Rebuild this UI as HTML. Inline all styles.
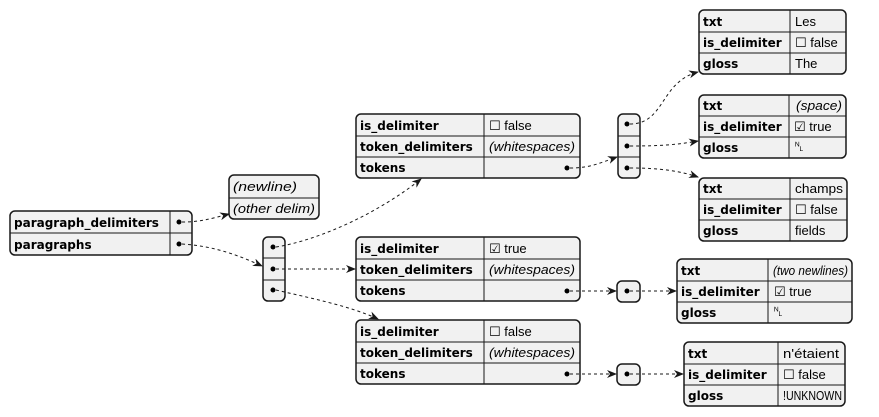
<!DOCTYPE html>
<html><head><meta charset="utf-8"><style>
html,body{margin:0;padding:0;background:#fff;}
svg{display:block;}
.b{fill:#f1f1f1;stroke:#181818;stroke-width:1.5;}
.l{stroke:#181818;stroke-width:1;}
.k{font-family:"DejaVu Sans","Liberation Sans",sans-serif;font-size:12px;font-weight:bold;fill:#000;}
.v{font-family:"Liberation Sans","DejaVu Sans",sans-serif;font-size:13px;fill:#000;}
.i{font-style:italic;}
.c{fill:none;stroke:#181818;stroke-width:1;stroke-dasharray:3,3;}
</style></head><body>
<svg width="879" height="417" viewBox="0 0 879 417" xmlns="http://www.w3.org/2000/svg">
<defs><marker id="a" markerWidth="10" markerHeight="8" refX="9" refY="4" orient="auto" markerUnits="userSpaceOnUse"><path d="M0,0 L10,4 L0,8 L3,4 Z" fill="#181818"/></marker></defs>

<rect class="b" x="10" y="211" width="182" height="44" rx="5"/>
<line class="l" x1="10" y1="233" x2="192" y2="233"/><line class="l" x1="170" y1="211" x2="170" y2="255"/>
<text class="k" x="14" y="227">paragraph_delimiters</text><text class="k" x="14" y="249">paragraphs</text>
<circle cx="179" cy="222" r="2.5"/><circle cx="179" cy="244" r="2.5"/>

<rect class="b" x="229" y="175" width="90" height="44" rx="5"/>
<line class="l" x1="229" y1="198" x2="319" y2="198"/>
<text class="v i" x="233" y="191" textLength="64" lengthAdjust="spacingAndGlyphs">(newline)</text><text class="v i" x="233" y="213" textLength="82" lengthAdjust="spacingAndGlyphs">(other delim)</text>

<rect class="b" x="263" y="237" width="22" height="64" rx="5"/>
<line class="l" x1="263" y1="258" x2="285" y2="258"/><line class="l" x1="263" y1="280" x2="285" y2="280"/>
<circle cx="273" cy="247" r="2.5"/><circle cx="273" cy="269" r="2.5"/><circle cx="273" cy="290" r="2.5"/>

<g>
<rect class="b" x="356" y="114" width="224" height="64" rx="5"/>
<line class="l" x1="356" y1="136" x2="580" y2="136"/><line class="l" x1="356" y1="157" x2="580" y2="157"/><line class="l" x1="484" y1="114" x2="484" y2="178"/>
<text class="k" x="360" y="130">is_delimiter</text><text class="k" x="360" y="151">token_delimiters</text><text class="k" x="360" y="172">tokens</text>
<text class="v" x="489" y="130">☐ false</text><text class="v i" x="489" y="151" textLength="86" lengthAdjust="spacingAndGlyphs">(whitespaces)</text>
<circle cx="567" cy="168" r="2.5"/>
</g>
<g>
<rect class="b" x="356" y="237" width="224" height="64" rx="5"/>
<line class="l" x1="356" y1="259" x2="580" y2="259"/><line class="l" x1="356" y1="280" x2="580" y2="280"/><line class="l" x1="484" y1="237" x2="484" y2="301"/>
<text class="k" x="360" y="253">is_delimiter</text><text class="k" x="360" y="274">token_delimiters</text><text class="k" x="360" y="295">tokens</text>
<text class="v" x="489" y="253">☑ true</text><text class="v i" x="489" y="274" textLength="86" lengthAdjust="spacingAndGlyphs">(whitespaces)</text>
<circle cx="567" cy="291" r="2.5"/>
</g>
<g>
<rect class="b" x="356" y="320" width="224" height="64" rx="5"/>
<line class="l" x1="356" y1="342" x2="580" y2="342"/><line class="l" x1="356" y1="363" x2="580" y2="363"/><line class="l" x1="484" y1="320" x2="484" y2="384"/>
<text class="k" x="360" y="336">is_delimiter</text><text class="k" x="360" y="357">token_delimiters</text><text class="k" x="360" y="378">tokens</text>
<text class="v" x="489" y="336">☐ false</text><text class="v i" x="489" y="357" textLength="86" lengthAdjust="spacingAndGlyphs">(whitespaces)</text>
<circle cx="567" cy="374" r="2.5"/>
</g>

<rect class="b" x="618" y="114" width="22" height="64" rx="5"/>
<line class="l" x1="618" y1="136" x2="640" y2="136"/><line class="l" x1="618" y1="157" x2="640" y2="157"/>
<circle cx="627" cy="124" r="2.5"/><circle cx="627" cy="146" r="2.5"/><circle cx="627" cy="168" r="2.5"/>
<rect class="b" x="617" y="281" width="23" height="21" rx="5"/><circle cx="627" cy="291" r="2.5"/>
<rect class="b" x="617" y="364" width="23" height="21" rx="5"/><circle cx="627" cy="374" r="2.5"/>

<g>
<rect class="b" x="699" y="10" width="147" height="64" rx="5"/>
<line class="l" x1="699" y1="32" x2="846" y2="32"/><line class="l" x1="699" y1="53" x2="846" y2="53"/><line class="l" x1="790" y1="10" x2="790" y2="74"/>
<text class="k" x="703" y="26">txt</text><text class="k" x="703" y="47">is_delimiter</text><text class="k" x="703" y="68">gloss</text>
<text class="v" x="795" y="26">Les</text><text class="v" x="795" y="47">☐ false</text><text class="v" x="795" y="68">The</text>
</g>
<g>
<rect class="b" x="699" y="95" width="147" height="63" rx="5"/>
<line class="l" x1="699" y1="116" x2="846" y2="116"/><line class="l" x1="699" y1="137" x2="846" y2="137"/><line class="l" x1="789" y1="95" x2="789" y2="158"/>
<text class="k" x="703" y="110">txt</text><text class="k" x="703" y="131">is_delimiter</text><text class="k" x="703" y="152">gloss</text>
<text class="v i" x="796" y="110" textLength="46" lengthAdjust="spacingAndGlyphs">(space)</text><text class="v" x="794" y="131">☑ true</text><text class="v" x="794" y="151" font-size="9">␤</text>
</g>
<g>
<rect class="b" x="699" y="178" width="148" height="63" rx="5"/>
<line class="l" x1="699" y1="199" x2="847" y2="199"/><line class="l" x1="699" y1="220" x2="847" y2="220"/><line class="l" x1="790" y1="178" x2="790" y2="241"/>
<text class="k" x="703" y="193">txt</text><text class="k" x="703" y="214">is_delimiter</text><text class="k" x="703" y="235">gloss</text>
<text class="v" x="795" y="193" textLength="48" lengthAdjust="spacingAndGlyphs">champs</text><text class="v" x="795" y="214">☐ false</text><text class="v" x="795" y="235">fields</text>
</g>
<g>
<rect class="b" x="677" y="259" width="175" height="64" rx="5"/>
<line class="l" x1="677" y1="281" x2="852" y2="281"/><line class="l" x1="677" y1="302" x2="852" y2="302"/><line class="l" x1="768" y1="259" x2="768" y2="323"/>
<text class="k" x="681" y="275">txt</text><text class="k" x="681" y="296">is_delimiter</text><text class="k" x="681" y="317">gloss</text>
<text class="v i" x="773" y="275" textLength="75" lengthAdjust="spacingAndGlyphs">(two newlines)</text><text class="v" x="774" y="296">☑ true</text><text class="v" x="773" y="316" font-size="9">␤</text>
</g>
<g>
<rect class="b" x="684" y="342" width="161" height="64" rx="5"/>
<line class="l" x1="684" y1="364" x2="845" y2="364"/><line class="l" x1="684" y1="385" x2="845" y2="385"/><line class="l" x1="778" y1="342" x2="778" y2="406"/>
<text class="k" x="688" y="358">txt</text><text class="k" x="688" y="379">is_delimiter</text><text class="k" x="688" y="400">gloss</text>
<text class="v" x="783" y="358" textLength="56" lengthAdjust="spacingAndGlyphs">n'étaient</text><text class="v" x="783" y="379">☐ false</text><text class="v" x="783" y="400" textLength="59" lengthAdjust="spacingAndGlyphs">!UNKNOWN</text>
</g>

<path class="c" marker-end="url(#a)" d="M182,222 C200,222 210,219 229,214"/>
<path class="c" marker-end="url(#a)" d="M182,244 C215,246 240,256 262,266"/>
<path class="c" marker-end="url(#a)" d="M276,247 C320,240 380,212 421,179"/>
<path class="c" marker-end="url(#a)" d="M276,269 L355,269"/>
<path class="c" marker-end="url(#a)" d="M276,290 C310,298 350,306 378,319"/>
<path class="c" marker-end="url(#a)" d="M570,168 C590,168 600,163 617,157"/>
<path class="c" marker-end="url(#a)" d="M630,124 C665,124 660,82 698,72"/>
<path class="c" marker-end="url(#a)" d="M630,146 C660,146 675,145 698,141"/>
<path class="c" marker-end="url(#a)" d="M630,168 C660,168 680,171 698,177"/>
<path class="c" marker-end="url(#a)" d="M570,291 L616,291"/>
<path class="c" marker-end="url(#a)" d="M630,291 L676,291"/>
<path class="c" marker-end="url(#a)" d="M570,374 L616,374"/>
<path class="c" marker-end="url(#a)" d="M630,374 L683,374"/>
</svg>
</body></html>
